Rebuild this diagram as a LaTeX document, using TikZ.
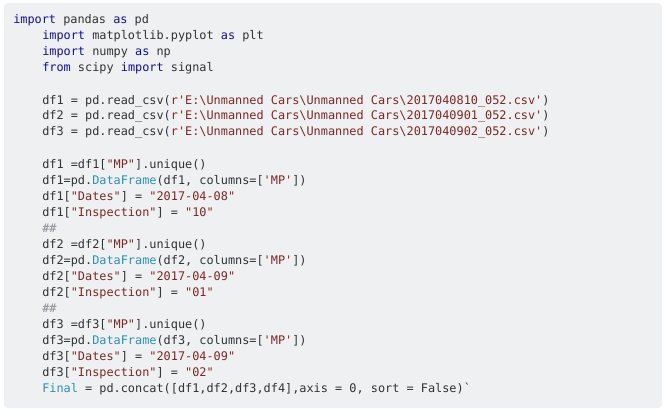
\documentclass[tikz,border=0pt]{standalone}
\usepackage{fontspec}
\setmonofont{DejaVu Sans Mono}
\definecolor{bgc}{HTML}{EFF0F1}
\definecolor{txt}{HTML}{303336}
\definecolor{kw}{HTML}{101094}
\definecolor{str}{HTML}{7D2727}
\definecolor{typ}{HTML}{2B91AF}
\definecolor{cmt}{HTML}{858C93}
\newcommand{\K}[1]{\textcolor{kw}{#1}}
\newcommand{\Sx}[1]{\textcolor{str}{#1}}
\newcommand{\T}[1]{\textcolor{typ}{#1}}
\newcommand{\Cm}[1]{\textcolor{cmt}{#1}}
\newcommand{\bs}{\textbackslash}
\begin{document}
\begin{tikzpicture}[x=0.75pt,y=-0.75pt,
  codeline/.style={anchor=base west,inner sep=0pt,font=\ttfamily\fontsize{8.9pt}{10pt}\selectfont,text=txt}]
\useasboundingbox (0,0) rectangle (666,417);
\fill[white] (0,0) rectangle (666,417);
\fill[bgc,rounded corners=3pt] (4,3) rectangle (662,408);
\node[codeline] (l1) at (13,24) {\K{import} pandas \K{as} pd};
\node[codeline] (l2) at (42,40) {\K{import} matplotlib.pyplot \K{as} plt};
\node[codeline] (l3) at (42,56) {\K{import} numpy \K{as} np};
\node[codeline] (l4) at (42,72) {\K{from} scipy \K{import} signal};
\node[codeline] (l6) at (42,104) {df1 = pd.read\_csv(\Sx{r'E:\bs Unmanned Cars\bs Unmanned Cars\bs 2017040810\_052.csv'})};
\node[codeline] (l7) at (42,120) {df2 = pd.read\_csv(\Sx{r'E:\bs Unmanned Cars\bs Unmanned Cars\bs 2017040901\_052.csv'})};
\node[codeline] (l8) at (42,136) {df3 = pd.read\_csv(\Sx{r'E:\bs Unmanned Cars\bs Unmanned Cars\bs 2017040902\_052.csv'})};
\node[codeline] (l10) at (42,168) {df1 =df1[\Sx{"MP"}].unique()};
\node[codeline] (l11) at (42,184) {df1=pd.\T{DataFrame}(df1, columns=[\Sx{'MP'}])};
\node[codeline] (l12) at (42,200) {df1[\Sx{"Dates"}] = \Sx{"2017-04-08"}};
\node[codeline] (l13) at (42,216) {df1[\Sx{"Inspection"}] = \Sx{"10"}};
\node[codeline] (l14) at (42,232) {\Cm{\#\#}};
\node[codeline] (l15) at (42,248) {df2 =df2[\Sx{"MP"}].unique()};
\node[codeline] (l16) at (42,264) {df2=pd.\T{DataFrame}(df2, columns=[\Sx{'MP'}])};
\node[codeline] (l17) at (42,280) {df2[\Sx{"Dates"}] = \Sx{"2017-04-09"}};
\node[codeline] (l18) at (42,296) {df2[\Sx{"Inspection"}] = \Sx{"01"}};
\node[codeline] (l19) at (42,312) {\Cm{\#\#}};
\node[codeline] (l20) at (42,328) {df3 =df3[\Sx{"MP"}].unique()};
\node[codeline] (l21) at (42,344) {df3=pd.\T{DataFrame}(df3, columns=[\Sx{'MP'}])};
\node[codeline] (l22) at (42,360) {df3[\Sx{"Dates"}] = \Sx{"2017-04-09"}};
\node[codeline] (l23) at (42,376) {df3[\Sx{"Inspection"}] = \Sx{"02"}};
\node[codeline] (l24) at (42,392) {\T{Final} = pd.concat([df1,df2,df3,df4],axis = 0, sort = False)`};
\end{tikzpicture}
\end{document}
